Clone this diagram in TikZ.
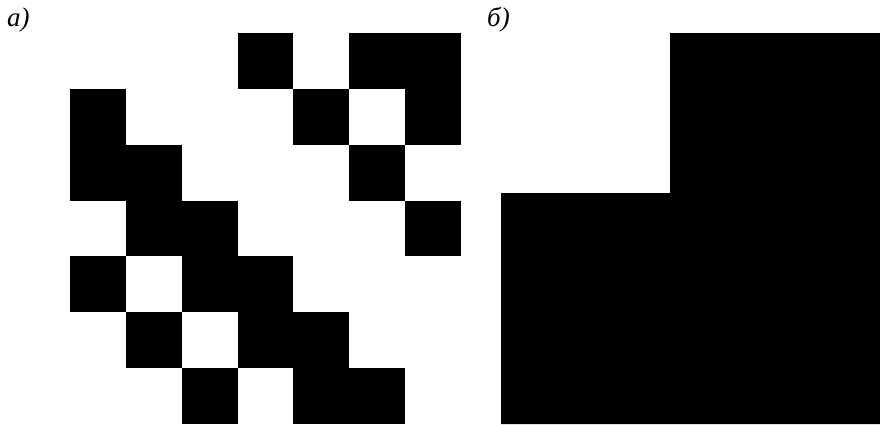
\documentclass[tikz,border=0pt]{standalone}
\usepackage{fontspec}
\setmainfont{Liberation Serif}
\begin{document}
\begin{tikzpicture}[x=1pt,y=-1pt,
  cell/.style={fill=black},
  lbl/.style={anchor=base west,inner sep=0pt,font=\fontsize{27}{30}\selectfont\itshape}]
\useasboundingbox (0,0) rectangle (880,424);
\fill[white] (0,0) rectangle (880,424);
% panel a: 7x7 grid
\def\cs{55.86}
\foreach \c/\r in {3/0,5/0,6/0, 0/1,4/1,6/1, 0/2,1/2,5/2, 1/3,2/3,6/3, 0/4,2/4,3/4, 1/5,3/5,4/5, 2/6,4/6,5/6}
  \fill[cell] ({70+\c*\cs},{33+\r*\cs}) rectangle ({70+(\c+1)*\cs},{33+(\r+1)*\cs});
% panel b
\fill[cell] (670,33) -- (880,33) -- (880,424) -- (501,424) -- (501,193) -- (670,193) -- cycle;
\node[lbl] (la) at (7,26) {а)};
\node[lbl] (lb) at (487,26) {б)};
\end{tikzpicture}
\end{document}
